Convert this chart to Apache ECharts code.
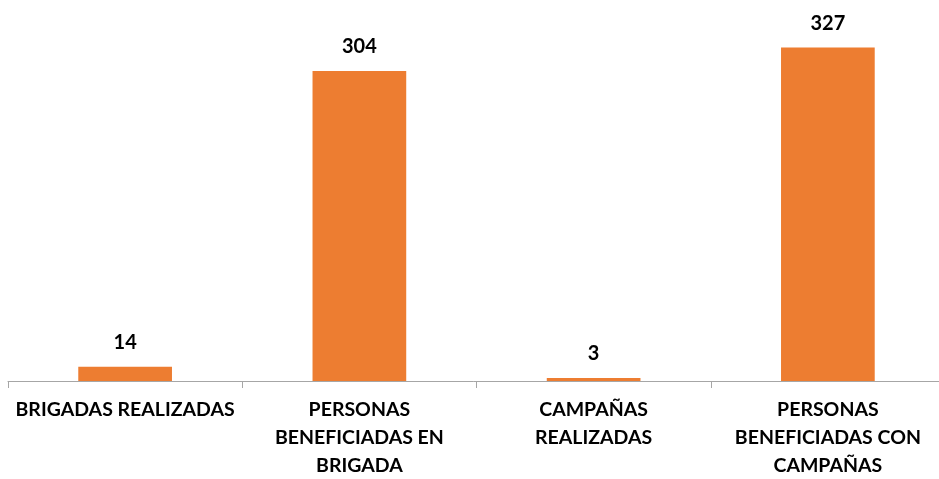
<!DOCTYPE html>
<html>
<head>
<meta charset="utf-8">
<script src="https://cdn.jsdelivr.net/npm/echarts@6/dist/echarts.min.js"></script>
<style>
    html, body { margin: 0; padding: 0; background: #fff; }
    #chart { width: 939px; height: 479px; }
</style>
</head>
<body>
<div id="chart"></div>
<script>
const categories = [
    'BRIGADAS REALIZADAS',
    'PERSONAS\nBENEFICIADAS EN\nBRIGADA',
    'CAMPAÑAS\nREALIZADAS',
    'PERSONAS\nBENEFICIADAS CON\nCAMPAÑAS'
]
const values = [14, 304, 3, 327]

const chart = echarts.init(document.getElementById('chart'))

const option = {
    animation: false,
    grid: {
        left: 8,
        right: -6,
        top: 24,
        bottom: 98,
        outerBoundsMode: 'none'
    },
    xAxis: {
        type: 'category',
        data: categories,
        axisLine: { lineStyle: { color: '#a6a6a6', width: 1 } },
        axisTick: { show: true, length: 7, lineStyle: { color: '#a6a6a6' } },
        axisLabel: {
            interval: 0,
            margin: 15,
            color: '#000',
            fontFamily: 'Lato',
            fontWeight: 'bold',
            fontSize: 19.5,
            lineHeight: 28
        }
    },
    yAxis: {
        type: 'value',
        min: 0,
        max: 350,
        show: false,
        splitLine: { show: false }
    },
    series: [
        {
            type: 'bar',
            data: values,
            barWidth: '40%',
            itemStyle: { color: '#ED7D31' },
            label: {
                show: true,
                position: 'top',
                distance: 14,
                color: '#000',
                fontFamily: 'Lato',
                fontWeight: 'bold',
                fontSize: 20
            }
        }
    ]
}

chart.setOption(option)
</script>
</body>
</html>
